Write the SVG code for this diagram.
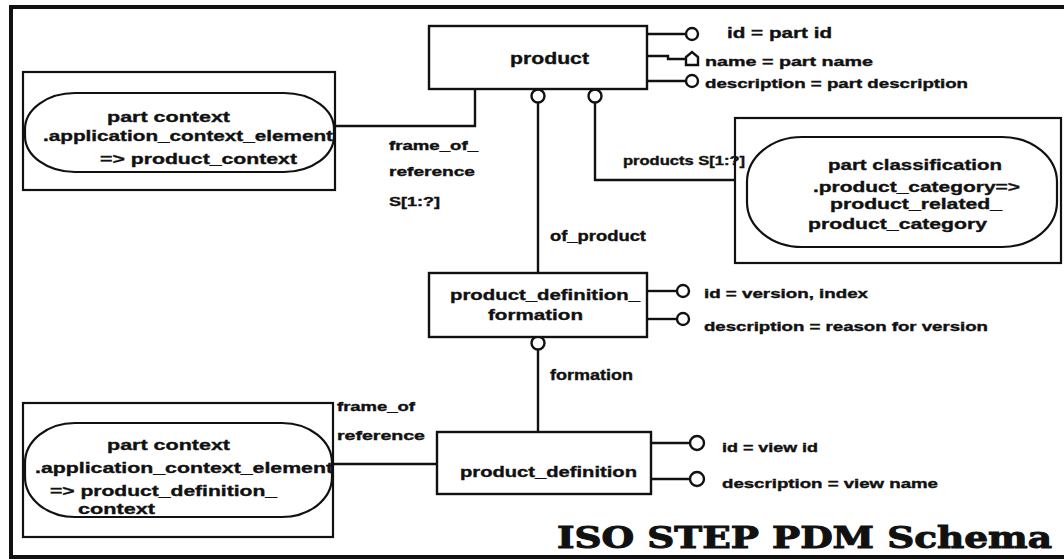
<svg xmlns="http://www.w3.org/2000/svg" width="1064" height="559" viewBox="0 0 1064 559">
<defs>
<style>
.box{fill:#fff;stroke:#111;stroke-width:2.4}
.frame{fill:none;stroke:#111;stroke-width:2.2}
.pill{fill:#fff;stroke:#111;stroke-width:2.2}
.ln{fill:none;stroke:#111;stroke-width:2.4}
.att{fill:#fff;stroke:#111;stroke-width:2.4}
.t{font-family:"Liberation Sans",Arial,sans-serif;font-weight:bold;fill:#111;stroke:#111;stroke-width:0.35}
.title{font-family:"DejaVu Serif","Liberation Serif",serif;font-weight:bold;font-size:29px;fill:#111;stroke:#111;stroke-width:1}
</style>
</defs>
<rect width="1064" height="559" fill="#fff"/>
<g id="outer-frame">
<path d="M1064,7 H11 V557 H1064" fill="none" stroke="#111" stroke-width="4"/>
</g>
<g id="connectors">
<path class="ln" d="M335,126 H475 V89"/>
<path class="ln" d="M538,103 V273"/>
<path class="ln" d="M595,103 V180 H735"/>
<path class="ln" d="M538,350 V432"/>
<path class="ln" d="M333,464 H437"/>
<path class="ln" d="M647,34 H686"/>
<path class="ln" d="M647,56 H668 V59 H686"/>
<path class="ln" d="M647,81 H686"/>
<path class="ln" d="M647,291 H677"/>
<path class="ln" d="M647,319 H677"/>
<path class="ln" d="M651,443 H690"/>
<path class="ln" d="M651,479 H690"/>
<circle class="att" cx="538" cy="96" r="6.5"/>
<circle class="att" cx="595" cy="96" r="6.5"/>
<circle class="att" cx="538" cy="343" r="6.5"/>
<circle class="att" cx="692" cy="34" r="6"/>
<path class="att" d="M686,65 V57 L692,52 L698,57 V65 Z"/>
<circle class="att" cx="692" cy="81" r="6"/>
<circle class="att" cx="683" cy="291" r="6"/>
<circle class="att" cx="683" cy="319" r="6"/>
<circle class="att" cx="697" cy="443" r="7"/>
<circle class="att" cx="697" cy="479" r="7"/>
<text class="t" x="389" y="150" font-size="12" textLength="89" lengthAdjust="spacingAndGlyphs">frame_of_</text>
<text class="t" x="389" y="176" font-size="12" textLength="86" lengthAdjust="spacingAndGlyphs">reference</text>
<text class="t" x="389" y="206" font-size="12" textLength="51" lengthAdjust="spacingAndGlyphs">S[1:?]</text>
<text class="t" x="623" y="165" font-size="12" textLength="122" lengthAdjust="spacingAndGlyphs">products S[1:?]</text>
<text class="t" x="550" y="241" font-size="14" textLength="96" lengthAdjust="spacingAndGlyphs">of_product</text>
<text class="t" x="550" y="380" font-size="14" textLength="83" lengthAdjust="spacingAndGlyphs">formation</text>
<text class="t" x="337" y="411" font-size="12" textLength="78" lengthAdjust="spacingAndGlyphs">frame_of</text>
<text class="t" x="337" y="440" font-size="12" textLength="88" lengthAdjust="spacingAndGlyphs">reference</text>
<text class="t" x="727" y="38" font-size="15" textLength="105" lengthAdjust="spacingAndGlyphs">id = part id</text>
<text class="t" x="705" y="66" font-size="12" textLength="168" lengthAdjust="spacingAndGlyphs">name = part name</text>
<text class="t" x="705" y="88" font-size="12" textLength="263" lengthAdjust="spacingAndGlyphs">description = part description</text>
<text class="t" x="704" y="298" font-size="12" textLength="164" lengthAdjust="spacingAndGlyphs">id = version, index</text>
<text class="t" x="704" y="331" font-size="12" textLength="284" lengthAdjust="spacingAndGlyphs">description = reason for version</text>
<text class="t" x="722" y="452" font-size="12" textLength="96" lengthAdjust="spacingAndGlyphs">id = view id</text>
<text class="t" x="722" y="488" font-size="12" textLength="216" lengthAdjust="spacingAndGlyphs">description = view name</text>
</g>
<g id="product">
<rect class="box" x="429" y="26" width="218" height="63"/>
<text class="t" x="510" y="64" font-size="17" textLength="79" lengthAdjust="spacingAndGlyphs">product</text>
</g>
<g id="part-context-top">
<rect class="frame" x="23" y="72" width="312" height="118"/>
<rect class="pill" x="25" y="93" width="309" height="79" rx="50" ry="36"/>
<text class="t" x="107" y="122" font-size="15" textLength="123" lengthAdjust="spacingAndGlyphs">part context</text>
<text class="t" x="43" y="141" font-size="15" textLength="290" lengthAdjust="spacingAndGlyphs">.application_context_element</text>
<text class="t" x="100" y="164" font-size="15" textLength="197" lengthAdjust="spacingAndGlyphs">=&gt; product_context</text>
</g>
<g id="part-classification">
<rect class="frame" x="735" y="118" width="326" height="145"/>
<rect class="pill" x="747" y="137" width="310" height="110" rx="55" ry="45"/>
<text class="t" x="828" y="170" font-size="15" textLength="174" lengthAdjust="spacingAndGlyphs">part classification</text>
<text class="t" x="813" y="192" font-size="15" textLength="207" lengthAdjust="spacingAndGlyphs">.product_category=&gt;</text>
<text class="t" x="830" y="209" font-size="15" textLength="172" lengthAdjust="spacingAndGlyphs">product_related_</text>
<text class="t" x="808" y="229" font-size="15" textLength="179" lengthAdjust="spacingAndGlyphs">product_category</text>
</g>
<g id="product-definition-formation">
<rect class="box" x="429" y="273" width="218" height="64"/>
<text class="t" x="450" y="300" font-size="15" textLength="190" lengthAdjust="spacingAndGlyphs">product_definition_</text>
<text class="t" x="488" y="320" font-size="15" textLength="95" lengthAdjust="spacingAndGlyphs">formation</text>
</g>
<g id="product-definition">
<rect class="box" x="437" y="432" width="214" height="62"/>
<text class="t" x="460" y="477" font-size="15" textLength="177" lengthAdjust="spacingAndGlyphs">product_definition</text>
</g>
<g id="part-context-bottom">
<rect class="frame" x="23" y="403" width="310" height="134"/>
<rect class="pill" x="25" y="423" width="307" height="94" rx="50" ry="40"/>
<text class="t" x="107" y="450" font-size="15" textLength="123" lengthAdjust="spacingAndGlyphs">part context</text>
<text class="t" x="35" y="473" font-size="15" textLength="298" lengthAdjust="spacingAndGlyphs">.application_context_element</text>
<text class="t" x="50" y="496" font-size="15" textLength="227" lengthAdjust="spacingAndGlyphs">=&gt; product_definition_</text>
<text class="t" x="78" y="514" font-size="15" textLength="77" lengthAdjust="spacingAndGlyphs">context</text>
</g>
<g id="title">
<text class="title" x="557" y="548" textLength="495" lengthAdjust="spacingAndGlyphs">ISO STEP PDM Schema</text>
</g>
</svg>
